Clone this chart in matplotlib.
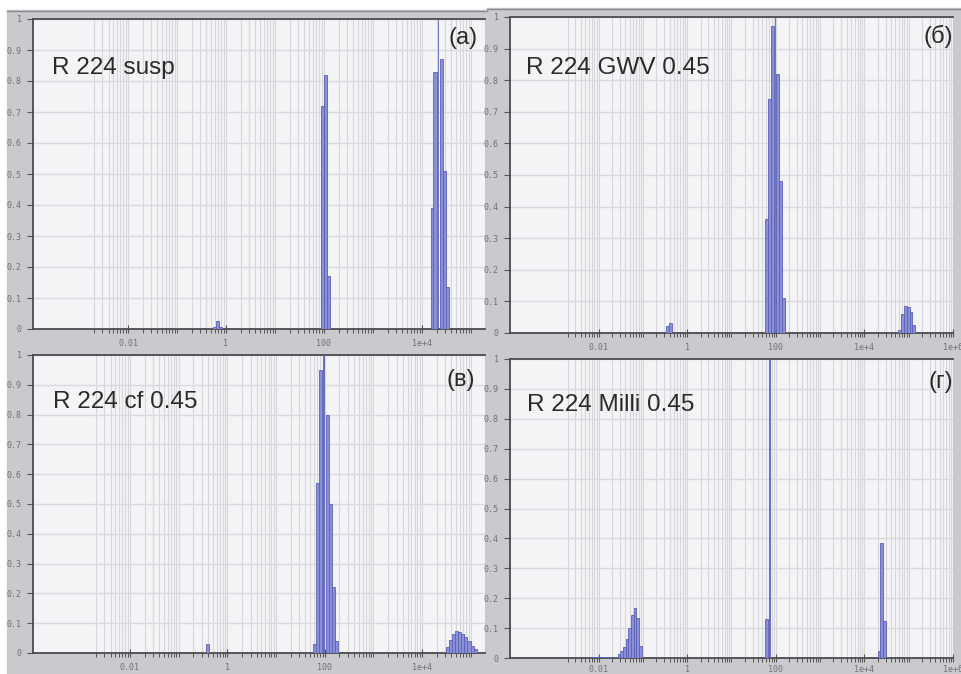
import numpy as np
import matplotlib
matplotlib.use("Agg")
import matplotlib.pyplot as plt
from matplotlib import ticker
from matplotlib.patches import Rectangle

# size bins (bin centres) and relative intensity
size_a = [0.575, 0.66, 0.76, 95.5, 109.6, 125.9,
          16200, 18600, 21400, 25100, 28800, 33100]
int_a = [0.008, 0.027, 0.008, 0.72, 0.82, 0.17,
         0.39, 0.83, 1.0, 0.87, 0.51, 0.135]

size_b = [0.365, 0.42, 61.7, 70.8, 83.2, 95.5, 109.6, 128.8, 147.9,
          63100, 72400, 85100, 97700, 112200, 128800]
int_b = [0.022, 0.032, 0.36, 0.74, 0.97, 1.0, 0.82, 0.48, 0.11,
         0.01, 0.06, 0.085, 0.082, 0.065, 0.025]

size_c = [0.40, 61.0, 70.8, 82.4, 95.5, 111.4, 129.7, 151.4, 175.8,
          33100, 38300, 44300, 51200, 59200, 68400, 79100, 91400, 105700, 122200]
int_c = [0.03, 0.03, 0.57, 0.95, 1.0, 0.80, 0.50, 0.22, 0.04,
         0.02, 0.045, 0.065, 0.075, 0.072, 0.065, 0.055, 0.04, 0.025, 0.012]

size_d = [0.0069, 0.0080, 0.0092, 0.0107, 0.0123, 0.0143, 0.0165, 0.0191,
          0.0251, 0.0288, 0.0331, 0.0380, 0.0437, 0.0501, 0.0575, 0.0661, 0.0759, 0.0871,
          61.7, 71.3, 21400, 24800, 28800]
int_d = [0.002, 0.002, 0.002, 0.002, 0.002, 0.002, 0.002, 0.002,
         0.005, 0.012, 0.022, 0.038, 0.065, 0.10, 0.145, 0.168, 0.135, 0.04,
         0.13, 1.0, 0.025, 0.385, 0.125]

labels = ["R 224 susp", "R 224 GWV 0.45", "R 224 cf 0.45", "R 224 Milli 0.45"]
tags = ["(a)", "(б)", "(в)", "(г)"]

BIN_DEC = 0.063  # bin width in decades
W, H = 962, 674

major_x = [1e-2, 1, 1e2, 1e4, 1e6]
minor_x = [k * 10.0 ** n for n in range(-3, 6) for k in range(1, 10)
           if k * 10.0 ** n >= 2e-3 and k * 10.0 ** n not in major_x]


def px(left, top, right, bottom):
    return [left / W, 1 - bottom / H, (right - left) / W, (bottom - top) / H]


def xfmt(v, pos):
    return {1e-2: "0.01", 1: "1", 1e2: "100", 1e4: "1e+4", 1e6: "1e+6"}.get(v, "")


def yfmt(v, pos):
    if abs(v) < 1e-9:
        return "0"
    if abs(v - 1) < 1e-9:
        return "1"
    return "%.1f" % v


fig = plt.figure(figsize=(W / 100, H / 100), dpi=100, facecolor="white")

# grey screenshot frames
frame = "#c9c9ce"
fig.patches.append(Rectangle((7 / W, 0), (487 - 7) / W, 1 - 10 / H,
                             transform=fig.transFigure, color=frame, zorder=-10))
fig.patches.append(Rectangle((487 / W, 0), (W - 487) / W, 1 - 8 / H,
                             transform=fig.transFigure, color=frame, zorder=-10))
fig.add_artist(plt.Line2D([7 / W, 487 / W], [1 - 11 / H] * 2, color="#8a8a90", lw=1.0, zorder=-5))
fig.add_artist(plt.Line2D([487 / W, 1], [1 - 9 / H] * 2, color="#8a8a90", lw=1.0, zorder=-5))


def panel(rect, xlim, sizes, heights, label, tag, label_xy, tag_xy, xpad=4):
    ax = fig.add_axes(px(*rect))
    ax.set_facecolor("#f4f4f6")
    ax.set_xscale("log")
    ax.set_xlim(*xlim)
    ax.set_ylim(0, 1)
    ax.xaxis.set_major_locator(ticker.FixedLocator(major_x))
    ax.xaxis.set_minor_locator(ticker.FixedLocator(minor_x))
    ax.xaxis.set_major_formatter(ticker.FuncFormatter(xfmt))
    ax.xaxis.set_minor_formatter(ticker.NullFormatter())
    ax.yaxis.set_major_locator(ticker.MultipleLocator(0.1))
    ax.yaxis.set_major_formatter(ticker.FuncFormatter(yfmt))
    ax.grid(True, which="both", axis="x", color="#d6d6db", lw=0.8)
    ax.grid(True, which="major", axis="y", color="#dadade", lw=1.0)
    ax.set_axisbelow(True)

    s = np.array(sizes)
    h = np.array(heights)
    hw = np.where(h >= 0.999, BIN_DEC / 7, BIN_DEC / 2)
    lo = s * 10 ** (-hw)
    hi = s * 10 ** hw
    ax.bar(lo, h, width=hi - lo, align="edge", color="#8a90d8",
           edgecolor="#5a60b8", linewidth=0.6, zorder=3)

    for side in ["left", "bottom", "top"]:
        ax.spines[side].set_color("#4a4a4f")
        ax.spines[side].set_linewidth(1.3)
    ax.spines["right"].set_visible(False)
    ax.tick_params(axis="both", which="major", direction="out", length=4, width=0.8,
                   color="#555", labelsize=6, labelcolor="#707075",
                   labelfontfamily="DejaVu Sans Mono", pad=4)
    ax.tick_params(axis="x", which="major", direction="inout", length=6, pad=xpad)
    ax.tick_params(axis="x", which="minor", direction="out", length=3, width=0.7, color="#555")

    fig.text(label_xy[0] / W, 1 - label_xy[1] / H, label, fontsize=17.5,
             family="Liberation Sans", color="#2a2a2a", va="baseline")
    fig.text(tag_xy[0] / W, 1 - tag_xy[1] / H, tag, fontsize=17,
             family="Liberation Sans", color="#2a2a2a", va="baseline")
    return ax


panel((33, 19, 485, 329), (10 ** -3.94, 10 ** 5.29), size_a, int_a,
      labels[0], tags[0], (52, 74), (449, 44))
panel((510, 17, 953, 333), (1e-4, 1e6), size_b, int_b,
      labels[1], tags[1], (526, 74), (924, 43))
panel((33, 355, 485, 653), (10 ** -3.99, 10 ** 5.29), size_c, int_c,
      labels[2], tags[2], (53, 408), (446, 386))
panel((510, 359, 953, 658), (1e-4, 1e6), size_d, int_d,
      labels[3], tags[3], (527, 411), (929, 388), xpad=2)

fig.savefig("out.png", dpi=100, facecolor="white")
